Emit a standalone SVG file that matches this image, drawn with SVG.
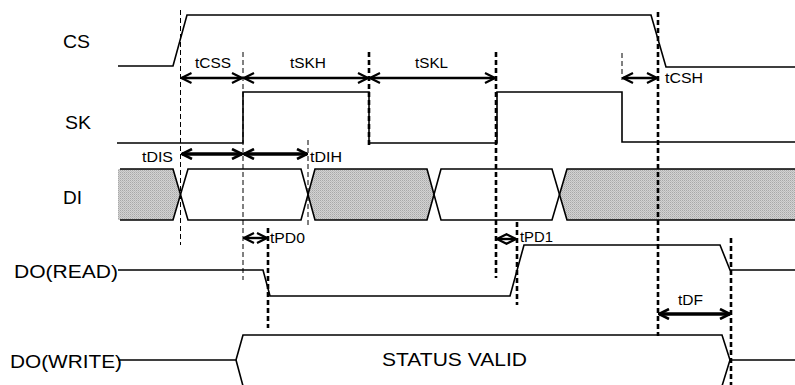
<svg xmlns="http://www.w3.org/2000/svg" width="795" height="385" viewBox="0 0 795 385">
<defs>
<pattern id="hatch" width="2" height="2" patternUnits="userSpaceOnUse">
<rect width="2" height="2" fill="#d2d2d2"/>
<rect x="0" y="0" width="1" height="1" fill="#a8a8a8"/>
<rect x="1" y="1" width="1" height="1" fill="#bcbcbc"/>
</pattern>
<marker id="ah" viewBox="0 0 12 12" refX="11" refY="6" markerWidth="12" markerHeight="12" markerUnits="userSpaceOnUse" orient="auto-start-reverse">
<path d="M1,1 L11,6 L1,11" fill="none" stroke="#000" stroke-width="2.2"/>
</marker>
<marker id="ahb" viewBox="0 0 12 12" refX="11" refY="6" markerWidth="12" markerHeight="12" markerUnits="userSpaceOnUse" orient="auto-start-reverse">
<path d="M1,1 L11,6 L1,11" fill="none" stroke="#000" stroke-width="2.6"/>
</marker>
</defs>
<style>
.sig{fill:none;stroke:#000;stroke-width:1.6}
.dt{fill:none;stroke:#000;stroke-width:1;stroke-dasharray:5,3}
.dk{fill:none;stroke:#000;stroke-width:2.6;stroke-dasharray:5,3}
.ar{fill:none;stroke:#000;stroke-width:2.4;marker-start:url(#ah);marker-end:url(#ah)}
.arb{fill:none;stroke:#000;stroke-width:3.6;marker-start:url(#ahb);marker-end:url(#ahb)}
.lbl{font-family:"Liberation Sans",Arial,sans-serif;font-size:18px;fill:#000}
.tm{font-family:"Liberation Sans",Arial,sans-serif;font-size:14.5px;fill:#000}
</style>
<rect width="795" height="385" fill="#fff"/>

<g id="labels">
<text class="lbl" x="63" y="48" textLength="27" lengthAdjust="spacingAndGlyphs">CS</text>
<text class="lbl" x="65" y="129" textLength="26" lengthAdjust="spacingAndGlyphs">SK</text>
<text class="lbl" x="63" y="204" textLength="19" lengthAdjust="spacingAndGlyphs">DI</text>
<text class="lbl" x="14" y="278" textLength="104" lengthAdjust="spacingAndGlyphs">DO(READ)</text>
<text class="lbl" x="10" y="368" textLength="112" lengthAdjust="spacingAndGlyphs">DO(WRITE)</text>
</g>

<g id="cs">
<path class="sig" d="M118,66 L173,66 L187,15 L651,15 L666,67 L795,67"/>
</g>

<g id="sk">
<path class="sig" d="M117,143 L243,143 L243,92 L369,92 L369,143 L497,143 L497,92 L622,92 L622,142 L795,142"/>
</g>

<g id="di">
<polygon points="118,169 173,169 180.5,194.5 173,220 118,220" fill="url(#hatch)"/>
<polygon points="308,194.5 315,169 427,169 434,194.5 427,220 315,220" fill="url(#hatch)"/>
<polygon points="559.5,194.5 567,169 795,169 795,220 567,220" fill="url(#hatch)"/>
<path class="sig" d="M120,169 L173,169 L188,220 L301,220 L315,169 L427,169 L441,220 L552,220 L567,169 L795,169"/>
<path class="sig" d="M120,220 L173,220 L188,169 L301,169 L315,220 L427,220 L441,169 L552,169 L567,220 L795,220"/>
</g>

<g id="doread">
<path class="sig" d="M118,270 L263,270 L270,296 L510,296 L524,245 L720,245 L730,270 L795,270"/>
</g>

<g id="dowrite">
<path class="sig" d="M118,360 L236,360 L243,335 L722,335 L730,360 L795,360"/>
<path class="sig" d="M236,360 L243,386 M730,360 L722,386"/>
<text class="lbl" x="382" y="366" textLength="145" lengthAdjust="spacingAndGlyphs">STATUS VALID</text>
</g>

<g id="connectors">
<line class="dt" x1="180.5" y1="10" x2="180.5" y2="245"/>
<line class="dt" x1="243" y1="52" x2="243" y2="280"/>
<line class="dt" x1="308" y1="140" x2="308" y2="228"/>
<line class="dt" x1="622" y1="53" x2="622" y2="80"/>
<line class="dk" x1="369" y1="52" x2="369" y2="146"/>
<line class="dk" x1="496" y1="52" x2="496" y2="278"/>
<line class="dk" x1="658" y1="12" x2="658" y2="336"/>
<line class="dk" x1="268" y1="228" x2="268" y2="328"/>
<line class="dk" x1="517" y1="222" x2="517" y2="305"/>
<line class="dk" x1="731" y1="238" x2="731" y2="385"/>

<line class="ar" x1="181.5" y1="78" x2="242" y2="78"/>
<line class="ar" x1="244" y1="78" x2="368" y2="78"/>
<line class="ar" x1="370" y1="78" x2="495" y2="78"/>
<line class="ar" x1="623" y1="78" x2="657" y2="78"/>
<line class="arb" x1="182" y1="154" x2="242" y2="154"/>
<line class="arb" x1="244" y1="154" x2="307" y2="154"/>
<line class="ar" x1="244" y1="238" x2="267" y2="238"/>
<line class="ar" x1="497" y1="239" x2="516" y2="239"/>
<line class="arb" x1="659" y1="314" x2="730" y2="314"/>
</g>

<g id="timing-labels">
<text class="tm" x="195" y="68" textLength="36" lengthAdjust="spacingAndGlyphs">tCSS</text>
<text class="tm" x="290" y="68" textLength="36" lengthAdjust="spacingAndGlyphs">tSKH</text>
<text class="tm" x="415" y="68" textLength="33" lengthAdjust="spacingAndGlyphs">tSKL</text>
<text class="tm" x="665" y="83" textLength="38" lengthAdjust="spacingAndGlyphs">tCSH</text>
<text class="tm" x="142" y="162" textLength="31" lengthAdjust="spacingAndGlyphs">tDIS</text>
<text class="tm" x="310" y="162" textLength="32" lengthAdjust="spacingAndGlyphs">tDIH</text>
<text class="tm" x="270" y="243" textLength="35" lengthAdjust="spacingAndGlyphs">tPD0</text>
<text class="tm" x="520" y="242" textLength="33" lengthAdjust="spacingAndGlyphs">tPD1</text>
<text class="tm" x="678" y="305" textLength="25" lengthAdjust="spacingAndGlyphs">tDF</text>
</g>
</svg>
